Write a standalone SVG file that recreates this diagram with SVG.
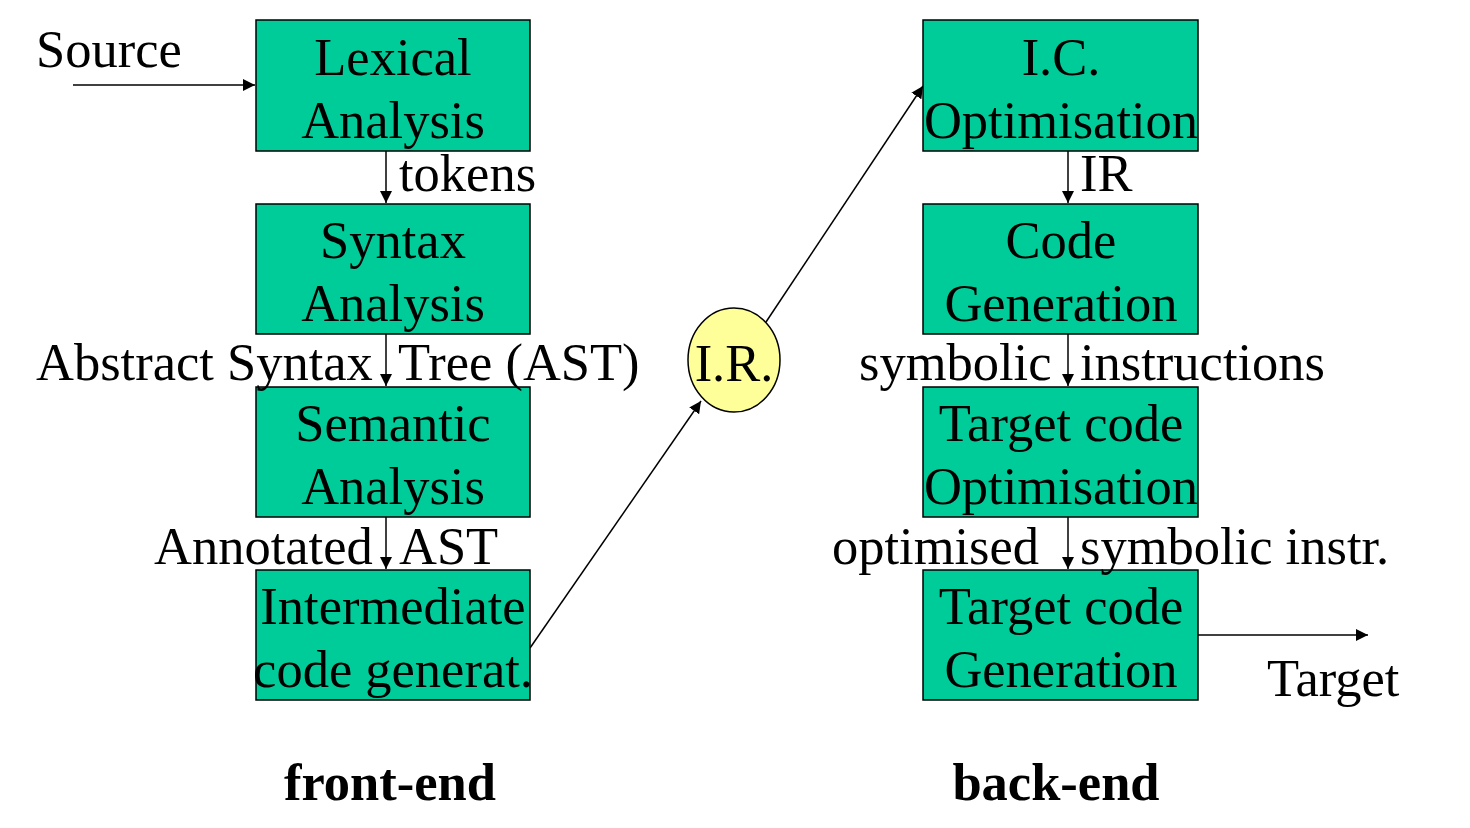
<svg xmlns="http://www.w3.org/2000/svg" width="1470" height="828" viewBox="0 0 1470 828">
<style>
.box{fill:#00CC99;stroke:#000;stroke-width:1.5}
text{font-family:"Liberation Serif","Times New Roman",serif;font-size:52.5px;fill:#000}
.c{text-anchor:middle}
.b{font-weight:bold}
.ln{stroke:#000;stroke-width:1.5;fill:none}
</style>
<defs>
<marker id="ah" viewBox="0 0 10 10" refX="10" refY="5" markerWidth="12" markerHeight="12" markerUnits="userSpaceOnUse" orient="auto">
<path d="M0,0 L10,5 L0,10 z" fill="#000"/>
</marker>
</defs>
<rect width="1470" height="828" fill="#fff"/>
<g id="connectors">
<line class="ln" x1="73" y1="85" x2="255" y2="85" marker-end="url(#ah)"/>
<line class="ln" x1="386" y1="151" x2="386" y2="203" marker-end="url(#ah)"/>
<line class="ln" x1="386" y1="334" x2="386" y2="386" marker-end="url(#ah)"/>
<line class="ln" x1="386" y1="517" x2="386" y2="569" marker-end="url(#ah)"/>
<line class="ln" x1="530" y1="648" x2="701" y2="401" marker-end="url(#ah)"/>
<line class="ln" x1="766" y1="322" x2="923" y2="86" marker-end="url(#ah)"/>
<line class="ln" x1="1068" y1="151" x2="1068" y2="203" marker-end="url(#ah)"/>
<line class="ln" x1="1068" y1="334" x2="1068" y2="386" marker-end="url(#ah)"/>
<line class="ln" x1="1068" y1="517" x2="1068" y2="569" marker-end="url(#ah)"/>
<line class="ln" x1="1198" y1="635" x2="1368" y2="635" marker-end="url(#ah)"/>
</g>
<g id="lexical"><rect class="box" x="256" y="20" width="274" height="131"/><text class="c" x="393" y="75">Lexical</text><text class="c" x="393" y="138">Analysis</text></g>
<g id="syntax"><rect class="box" x="256" y="204" width="274" height="130"/><text class="c" x="393" y="258">Syntax</text><text class="c" x="393" y="321">Analysis</text></g>
<g id="semantic"><rect class="box" x="256" y="387" width="274" height="130"/><text class="c" x="393" y="441">Semantic</text><text class="c" x="393" y="504">Analysis</text></g>
<g id="intermediate"><rect class="box" x="256" y="570" width="274" height="130"/><text class="c" x="393" y="624">Intermediate</text><text class="c" x="393" y="687">code generat.</text></g>
<g id="icopt"><rect class="box" x="923" y="20" width="275" height="131"/><text class="c" x="1061" y="75">I.C.</text><text class="c" x="1061" y="138">Optimisation</text></g>
<g id="codegen"><rect class="box" x="923" y="204" width="275" height="130"/><text class="c" x="1061" y="258">Code</text><text class="c" x="1061" y="321">Generation</text></g>
<g id="tcopt"><rect class="box" x="923" y="387" width="275" height="130"/><text class="c" x="1061" y="441">Target code</text><text class="c" x="1061" y="504">Optimisation</text></g>
<g id="tcgen"><rect class="box" x="923" y="570" width="275" height="130"/><text class="c" x="1061" y="624">Target code</text><text class="c" x="1061" y="687">Generation</text></g>
<g id="ir"><ellipse cx="734" cy="360" rx="46" ry="52" fill="#FFFF99" stroke="#000" stroke-width="1.5"/><text class="c" x="734" y="381">I.R.</text></g>
<g id="labels">
<text x="36" y="67">Source</text>
<text x="399" y="191">tokens</text>
<text x="36" y="380">Abstract Syntax</text>
<text x="398" y="380">Tree (AST)</text>
<text x="154" y="564">Annotated</text>
<text x="399" y="564">AST</text>
<text x="1080" y="191">IR</text>
<text x="859" y="380">symbolic</text>
<text x="1080" y="380">instructions</text>
<text x="832" y="564">optimised</text>
<text x="1080" y="564">symbolic instr.</text>
<text x="1267" y="696">Target</text>
<text class="c b" x="390" y="800">front-end</text>
<text class="c b" x="1056" y="800">back-end</text>
</g>
</svg>
